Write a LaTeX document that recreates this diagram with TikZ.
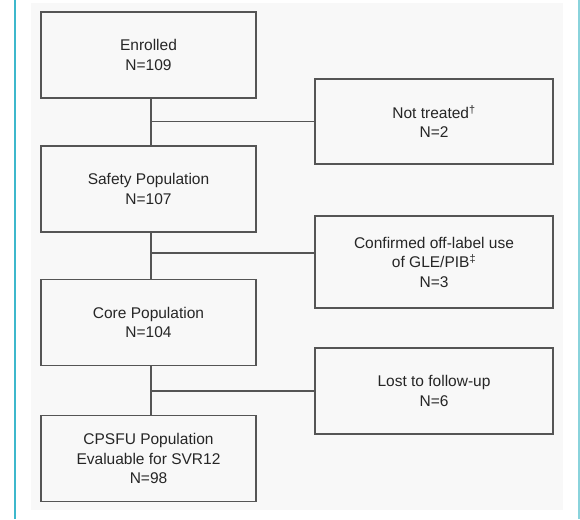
\documentclass[tikz,border=0pt]{standalone}
\usepackage{fontspec}
\setmainfont{Liberation Sans}
\usetikzlibrary{positioning,calc}
\definecolor{boxline}{HTML}{555555}
\definecolor{panel}{HTML}{F8F8F8}
\definecolor{rule}{HTML}{3DB8CC}
\definecolor{ruleLight}{HTML}{8AD3DC}

\begin{document}
\begin{tikzpicture}[x=1pt, y=-1pt,
    popBox/.style={rectangle, draw=boxline, fill=panel, line width=1.1pt, font=\fontsize{15.5}{19.5}\selectfont, text=black!85, align=center, minimum width=215pt, minimum height=86pt, inner sep=0pt},
    exclBox/.style={popBox, minimum width=238pt, minimum height=85pt},
    lineStyle/.style={line width=1.1pt, draw=boxline}
]
    % frame
    \useasboundingbox (0,0) rectangle (580,519);
    \fill[panel] (31,3) rectangle (563,510);
    \draw[rule, line width=1.5pt] (15,0) -- (15,519);
    \draw[ruleLight, line width=1.5pt] (579,0) -- (579,519);

    % main stream
    \node[popBox] (enrol) at (148.5, 55) {Enrolled\\N=109};
    \node[popBox] (safety) at (148.5, 189) {Safety Population\\N=107};
    \node[popBox] (core) at (148.5, 322.5) {Core Population\\N=104};
    \node[popBox] (cpsfu) at (148.5, 458.5) {CPSFU Population\\Evaluable for SVR12\\N=98};

    % exclusions
    \node[exclBox] (untreated) at (434, 121.5) {Not treated\textsuperscript{†}\\N=2};
    \node[exclBox, minimum height=92pt] (offlabel) at (434, 262) {Confirmed off-label use\\of GLE/PIB\textsuperscript{‡}\\N=3};
    \node[exclBox, minimum height=86pt] (lost) at (434, 391) {Lost to follow-up\\N=6};

    \coordinate (split1) at ($(enrol.south)+(2.5,0)$);
    \coordinate (split2) at ($(safety.south)+(2.5,0)$);
    \coordinate (split3) at ($(core.south)+(2.5,0)$);
    \coordinate (offIn) at ($(offlabel.west)+(0,-9)$);

    \draw[lineStyle] (split1) -- (split1 |- safety.north);
    \draw[lineStyle] (split2) -- (split2 |- core.north);
    \draw[lineStyle] (split3) -- (split3 |- cpsfu.north);
    \draw[lineStyle] (split1 |- untreated.west) -- (untreated.west);
    \draw[lineStyle] (split2 |- offIn) -- (offIn);
    \draw[lineStyle] (split3 |- lost.west) -- (lost.west);
\end{tikzpicture}
\end{document}
